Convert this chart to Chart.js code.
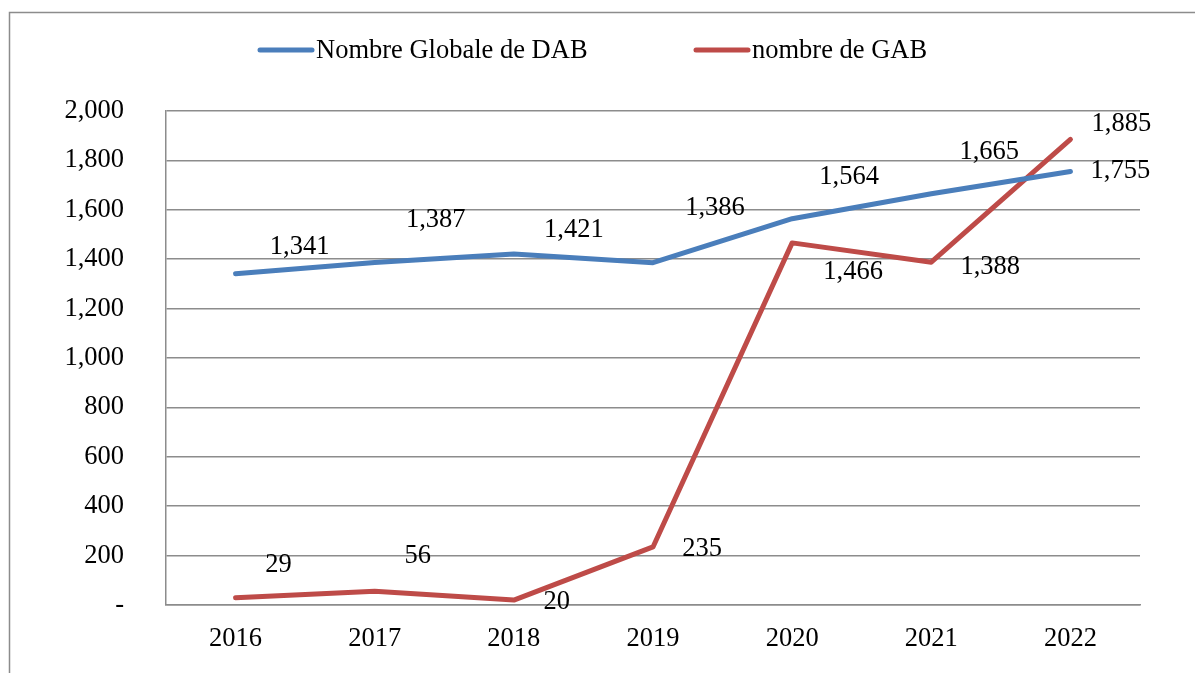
<!DOCTYPE html>
<html>
<head>
<meta charset="utf-8">
<script src="https://cdn.jsdelivr.net/npm/chart.js@4/dist/chart.umd.min.js"></script>
<style>
  html, body { margin: 0; padding: 0; background: #fff; }
  #wrap { width: 1195px; height: 673px; position: relative; }
</style>
</head>
<body>
<div id="wrap"><canvas id="graphique"></canvas></div>
<script>
const annees = ['2016', '2017', '2018', '2019', '2020', '2021', '2022'];
const nombreDAB = [1341, 1387, 1421, 1386, 1564, 1665, 1755];
const nombreGAB = [29, 56, 20, 235, 1466, 1388, 1885];
const nomsSeries = ['Nombre Globale de DAB', 'nombre de GAB'];
const couleurs = ['#4a7ebb', '#be4b48'];

// decalage des etiquettes (px) par rapport au point
const decalDAB = [[64, -27], [61, -42], [60, -24], [62, -55], [57, -42], [58, -42], [50, 0]];
const decalGAB = [[43, -33], [43, -35], [43, 2], [49, 2], [61, 29], [59, 5], [51, -15]];

const police = '"Liberation Serif", "Times New Roman", serif';
const taille = 26.5;
const fmt = v => v.toLocaleString('en-US');

const cadre = {
    id: 'cadre',
    beforeDraw(chart) {
        const ctx = chart.ctx;
        ctx.save();
        ctx.strokeStyle = '#8c8c8c';
        ctx.lineWidth = 1.5;
        ctx.strokeRect(9.5, 12.5, chart.width + 20, chart.height + 20);
        ctx.restore();
    }
};

const legende = {
    id: 'legende',
    afterDraw(chart) {
        const ctx = chart.ctx;
        const pos = [258, 694];
        ctx.save();
        ctx.font = taille + 'px ' + police;
        ctx.textBaseline = 'middle';
        ctx.lineCap = 'round';
        nomsSeries.forEach((nom, i) => {
            ctx.strokeStyle = couleurs[i];
            ctx.lineWidth = 5;
            ctx.beginPath();
            ctx.moveTo(pos[i] + 2, 50);
            ctx.lineTo(pos[i] + 54, 50);
            ctx.stroke();
            ctx.fillStyle = '#000';
            ctx.fillText(nom, pos[i] + 58, 51);
        });
        ctx.restore();
    }
};

const etiquettes = {
    id: 'etiquettes',
    afterDatasetsDraw(chart) {
        const ctx = chart.ctx;
        const decal = [decalDAB, decalGAB];
        ctx.save();
        ctx.font = taille + 'px ' + police;
        ctx.fillStyle = '#000';
        ctx.textAlign = 'center';
        ctx.textBaseline = 'middle';
        chart.data.datasets.forEach((ds, i) => {
            chart.getDatasetMeta(i).data.forEach((pt, j) => {
                const d = decal[i][j];
                ctx.fillText(fmt(ds.data[j]), pt.x + d[0], pt.y + d[1]);
            });
        });
        ctx.restore();
    }
};

new Chart(document.getElementById('graphique'), {
    type: 'line',
    data: {
        labels: annees,
        datasets: [
            { label: nomsSeries[0], data: nombreDAB, borderColor: couleurs[0], backgroundColor: couleurs[0] },
            { label: nomsSeries[1], data: nombreGAB, borderColor: couleurs[1], backgroundColor: couleurs[1] }
        ]
    },
    options: {
        responsive: true,
        maintainAspectRatio: false,
        animation: false,
        layout: { padding: { top: 111, right: 55, left: 0, bottom: 0 } },
        elements: {
            line: { borderWidth: 5, tension: 0, borderCapStyle: 'round', borderJoinStyle: 'round' },
            point: { radius: 0 }
        },
        plugins: {
            legend: { display: false },
            tooltip: { enabled: false }
        },
        scales: {
            x: {
                offset: true,
                grid: { display: false, drawTicks: false },
                border: { color: '#8c8c8c', width: 1.5 },
                ticks: { color: '#000', padding: 18, font: { family: police, size: taille } },
                afterFit(s) { s.height = 68; }
            },
            y: {
                min: 0,
                max: 2000,
                grid: { color: '#8c8c8c', lineWidth: 1.5, drawTicks: false },
                border: { color: '#8c8c8c', width: 1.5 },
                ticks: {
                    stepSize: 200,
                    color: '#000',
                    padding: 42,
                    font: { family: police, size: taille },
                    callback: v => v === 0 ? '-' : fmt(v)
                },
                afterFit(s) { s.width = 166; }
            }
        }
    },
    plugins: [cadre, legende, etiquettes]
});
</script>
</body>
</html>
